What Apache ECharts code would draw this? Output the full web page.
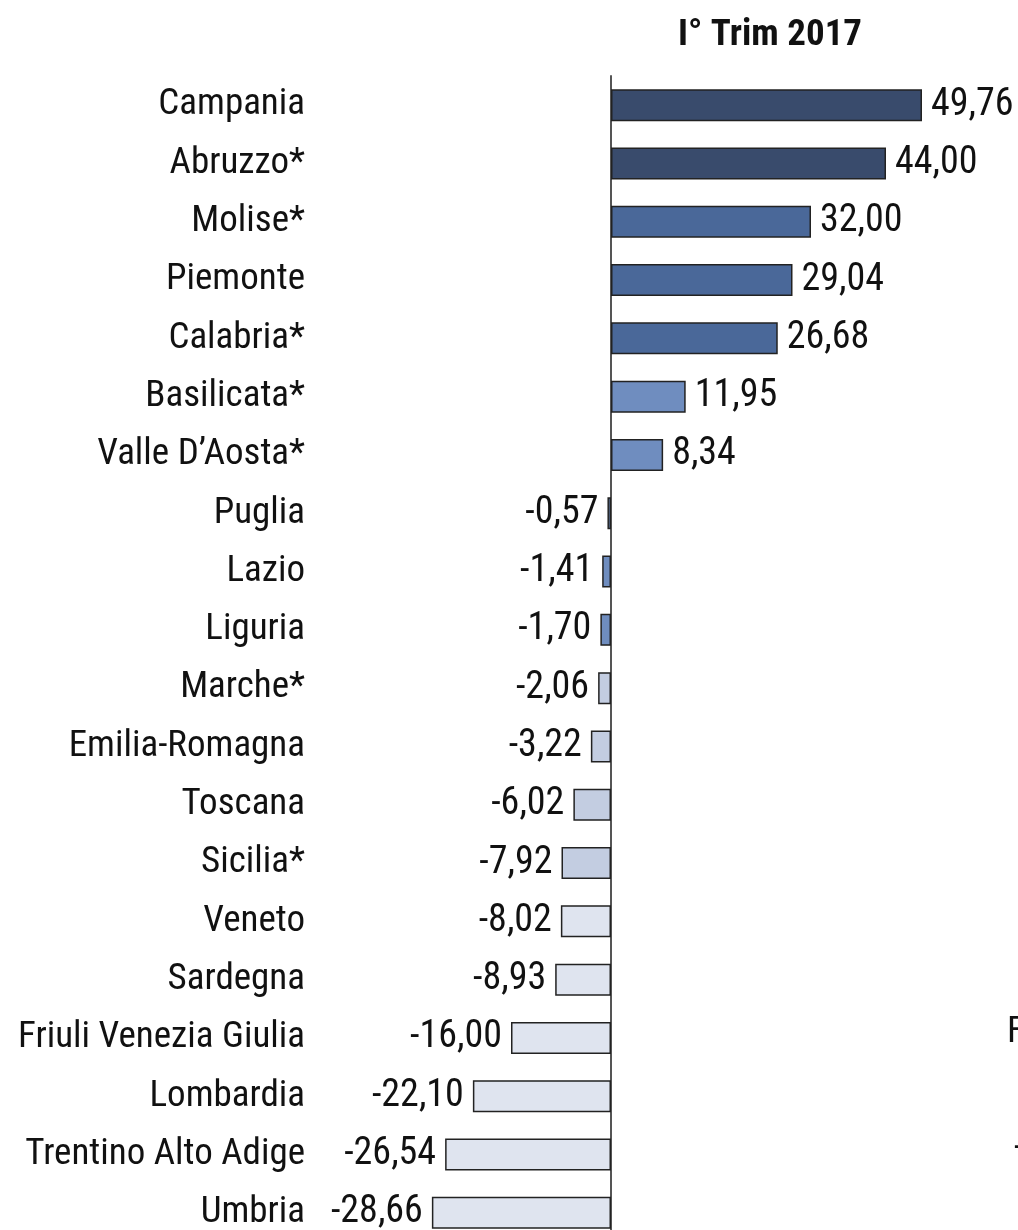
<!DOCTYPE html>
<html>
<head>
<meta charset="utf-8">
<script src="https://cdn.jsdelivr.net/npm/echarts@6/dist/echarts.min.js"></script>
<style>
html, body { margin: 0; padding: 0; background: #fff; }
#main { width: 1018px; height: 1230px; }
</style>
</head>
<body>
<div id="main"></div>
<script>
// dati
var title = 'I° Trim 2017';
var regioni = ['Campania', 'Abruzzo*', 'Molise*', 'Piemonte', 'Calabria*', 'Basilicata*', 'Valle D\u2019Aosta*',
	'Puglia', 'Lazio', 'Liguria', 'Marche*', 'Emilia-Romagna', 'Toscana', 'Sicilia*', 'Veneto',
	'Sardegna', 'Friuli Venezia Giulia', 'Lombardia', 'Trentino Alto Adige', 'Umbria'];
var valori = [49.76, 44.00, 32.00, 29.04, 26.68, 11.95, 8.34,
	-0.57, -1.41, -1.70, -2.06, -3.22, -6.02, -7.92, -8.02,
	-8.93, -16.00, -22.10, -26.54, -28.66];

// colori delle barre (stile)
var barColors = ['#394b6c', '#394b6c', '#4a6899', '#4a6899', '#4a6899', '#6f8dbf', '#6f8dbf',
	'#6f8dbf', '#6f8dbf', '#6f8dbf', '#c3cde1', '#c3cde1', '#c3cde1', '#c3cde1', '#dfe4ef',
	'#dfe4ef', '#dfe4ef', '#dfe4ef', '#dfe4ef', '#dfe4ef'];

var font = "'Roboto Condensed', 'Liberation Sans Narrow', 'DejaVu Sans Condensed', Roboto, sans-serif";

function fmt(v) {
	return v.toFixed(2).replace('.', ',');
}

var data = [];
for(var i = 0; i < valori.length; i++) {
	var neg = valori[i] < 0;
	data.push({
		value: valori[i],
		itemStyle: {
			color: barColors[i]
		},
		label: {
			position: neg ? 'left' : 'right'
		}
	});
}

var myChart = echarts.init(document.getElementById('main'));
myChart.setOption({
	animation: false,
	title: {
		text: title,
		left: 765,
		top: 12,
		textAlign: 'center',
		textStyle: {
			fontFamily: font,
			fontWeight: 'bold',
			fontSize: 37,
			color: '#111'
		}
	},
	grid: {
		left: 361,
		top: 76,
		width: 625,
		height: 1166,
		containLabel: false,
		outerBoundsMode: 'none'
	},
	xAxis: {
		type: 'value',
		min: -40,
		max: 60,
		show: false
	},
	yAxis: {
		type: 'category',
		inverse: true,
		data: regioni,
		axisTick: {
			show: false
		},
		axisLine: {
			onZero: true,
			lineStyle: {
				color: '#555',
				width: 2
			}
		},
		axisLabel: {
			margin: 56,
			fontFamily: font,
			fontSize: 37,
			color: '#111'
		}
	},
	series: [{
		type: 'bar',
		barWidth: 32,
		data: data,
		itemStyle: {
			borderColor: '#222',
			borderWidth: 1.5
		},
		label: {
			show: true,
			distance: 9,
			fontFamily: font,
			fontSize: 38,
			color: '#111',
			formatter: function(p) {
				return fmt(p.value);
			}
		}
	}],
	graphic: [{
		type: 'text',
		left: 1007,
		top: 1014,
		style: {
			text: 'F',
			fontFamily: font,
			fontSize: 37,
			fill: '#111'
		}
	}, {
		type: 'text',
		left: 1014,
		top: 1130,
		style: {
			text: '-',
			fontFamily: font,
			fontSize: 37,
			fill: '#111'
		}
	}]
});
</script>
</body>
</html>
